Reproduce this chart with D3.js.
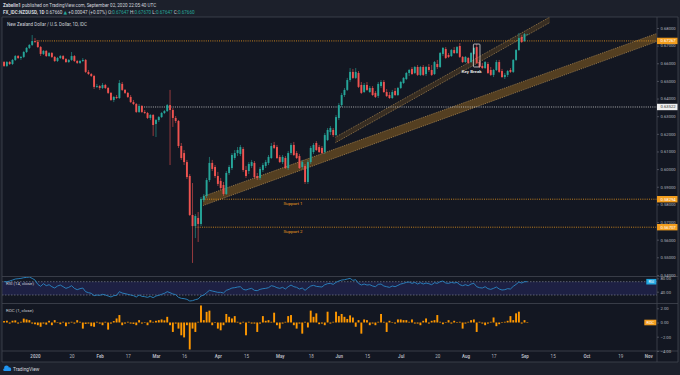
<!DOCTYPE html>
<html>
<head>
<meta charset="utf-8">
<script src="https://cdn.jsdelivr.net/npm/d3@7"></script>
<style>
html, body { margin: 0; padding: 0; background: #1c202b; }
svg { display: block; font-family: Roboto, "DejaVu Sans", sans-serif; }
</style>
</head>
<body>
<svg id="chart" width="680" height="375"></svg>
<script>
// bar index of the first candle, counted in trading days from Jan 1 2020
let firstBar = -11;

// daily candles [open, high, low, close], Dec 16 2019 .. Sep 2 2020
let candles = [
    [0.6607,0.6613,0.6579,0.6585],[0.6585,0.6613,0.6579,0.6607],[0.6607,0.6613,0.6590,0.6596],
    [0.6596,0.6624,0.6590,0.6619],[0.6619,0.6647,0.6613,0.6641],[0.6641,0.6647,0.6624,0.6630],
    [0.6630,0.6641,0.6619,0.6636],[0.6636,0.6670,0.6630,0.6664],[0.6664,0.6692,0.6658,0.6687],
    [0.6687,0.6709,0.6681,0.6704],[0.6704,0.6760,0.6698,0.6726],
    // Jan
    [0.6726,0.6743,0.6715,0.6721],[0.6721,0.6732,0.6687,0.6692],[0.6692,0.6698,0.6641,0.6653],
    [0.6653,0.6675,0.6647,0.6670],[0.6670,0.6675,0.6636,0.6641],[0.6641,0.6664,0.6636,0.6658],
    [0.6658,0.6664,0.6630,0.6636],[0.6636,0.6641,0.6607,0.6613],[0.6613,0.6636,0.6607,0.6630],
    [0.6630,0.6647,0.6624,0.6641],[0.6641,0.6647,0.6619,0.6624],[0.6624,0.6630,0.6602,0.6607],
    [0.6607,0.6624,0.6602,0.6619],[0.6619,0.6664,0.6613,0.6641],[0.6641,0.6647,0.6607,0.6613],
    [0.6613,0.6619,0.6596,0.6602],[0.6602,0.6619,0.6596,0.6613],[0.6613,0.6630,0.6607,0.6619],
    [0.6619,0.6624,0.6545,0.6551],[0.6551,0.6562,0.6534,0.6539],[0.6539,0.6545,0.6522,0.6528],
    [0.6528,0.6534,0.6454,0.6466],[0.6466,0.6483,0.6460,0.6471],
    // Feb
    [0.6471,0.6477,0.6449,0.6460],[0.6460,0.6488,0.6454,0.6477],[0.6477,0.6483,0.6454,0.6460],
    [0.6460,0.6466,0.6426,0.6432],[0.6432,0.6437,0.6386,0.6392],[0.6392,0.6415,0.6380,0.6409],
    [0.6409,0.6420,0.6398,0.6403],[0.6403,0.6505,0.6398,0.6488],[0.6483,0.6494,0.6443,0.6449],
    [0.6449,0.6454,0.6426,0.6432],[0.6432,0.6437,0.6403,0.6409],[0.6409,0.6420,0.6375,0.6380],
    [0.6380,0.6392,0.6363,0.6369],[0.6369,0.6375,0.6318,0.6324],[0.6324,0.6369,0.6318,0.6358],
    [0.6358,0.6363,0.6318,0.6324],[0.6324,0.6335,0.6312,0.6318],[0.6318,0.6324,0.6284,0.6290],
    [0.6290,0.6312,0.6278,0.6307],[0.6307,0.6312,0.6188,0.6250],
    // Mar
    [0.6256,0.6284,0.6182,0.6278],[0.6278,0.6301,0.6267,0.6295],[0.6295,0.6324,0.6290,0.6318],
    [0.6318,0.6335,0.6312,0.6329],[0.6329,0.6369,0.6324,0.6363],[0.6363,0.6449,0.6023,0.6335],
    [0.6335,0.6346,0.6239,0.6290],[0.6290,0.6301,0.6261,0.6273],[0.6273,0.6278,0.6120,0.6131],
    [0.6131,0.6148,0.6052,0.6063],[0.6091,0.6108,0.6023,0.6040],[0.6040,0.6052,0.5944,0.5955],
    [0.5961,0.5972,0.5734,0.5740],[0.5740,0.5921,0.5468,0.5677],[0.5677,0.5745,0.5609,0.5734],
    [0.5723,0.5757,0.5587,0.5689],[0.5689,0.5842,0.5677,0.5831],[0.5825,0.5859,0.5814,0.5848],
    [0.5848,0.5950,0.5836,0.5938],[0.5938,0.6069,0.5927,0.6035],[0.6035,0.6052,0.5989,0.6001],
    [0.6012,0.6023,0.5950,0.5961],
    // Apr
    [0.5961,0.5984,0.5904,0.5916],[0.5933,0.5950,0.5882,0.5893],[0.5910,0.5927,0.5848,0.5859],
    [0.5859,0.5989,0.5853,0.5978],[0.5978,0.6023,0.5967,0.6012],[0.6006,0.6091,0.5995,0.6080],
    [0.6063,0.6108,0.6052,0.6091],[0.6091,0.6125,0.6074,0.6108],[0.6086,0.6137,0.6074,0.6125],
    [0.6114,0.6125,0.5984,0.5995],[0.5995,0.6018,0.5950,0.5961],[0.5989,0.6040,0.5972,0.6029],
    [0.6018,0.6052,0.6006,0.6040],[0.6035,0.6046,0.5944,0.5955],[0.5961,0.5978,0.5938,0.5950],
    [0.5950,0.6012,0.5938,0.6001],[0.5995,0.6035,0.5984,0.6023],[0.6018,0.6052,0.6006,0.6040],
    [0.6035,0.6080,0.6023,0.6069],[0.6063,0.6148,0.6057,0.6131],[0.6137,0.6154,0.6114,0.6120],
    [0.6125,0.6137,0.6057,0.6063],
    // May
    [0.6069,0.6080,0.6035,0.6040],[0.6040,0.6080,0.6029,0.6069],[0.6063,0.6074,0.6001,0.6006],
    [0.6006,0.6103,0.5995,0.6091],[0.6091,0.6148,0.6080,0.6137],[0.6137,0.6154,0.6074,0.6080],
    [0.6091,0.6103,0.6057,0.6063],[0.6074,0.6086,0.6001,0.6006],[0.6012,0.6052,0.6001,0.6040],
    [0.6018,0.6029,0.5916,0.5927],[0.5927,0.6052,0.5916,0.6040],[0.6040,0.6131,0.6029,0.6120],
    [0.6097,0.6148,0.6086,0.6137],[0.6148,0.6159,0.6103,0.6108],[0.6125,0.6137,0.6091,0.6097],
    [0.6120,0.6131,0.6086,0.6091],[0.6097,0.6205,0.6086,0.6193],[0.6165,0.6233,0.6159,0.6222],
    [0.6210,0.6244,0.6193,0.6233],[0.6222,0.6233,0.6182,0.6193],[0.6193,0.6307,0.6188,0.6295],
    // Jun
    [0.6290,0.6375,0.6278,0.6363],[0.6363,0.6432,0.6352,0.6420],[0.6420,0.6460,0.6409,0.6449],
    [0.6449,0.6517,0.6443,0.6505],[0.6505,0.6573,0.6494,0.6551],[0.6551,0.6568,0.6511,0.6517],
    [0.6517,0.6573,0.6511,0.6551],[0.6545,0.6556,0.6460,0.6466],[0.6477,0.6494,0.6426,0.6432],
    [0.6437,0.6488,0.6432,0.6477],[0.6477,0.6494,0.6443,0.6449],[0.6437,0.6471,0.6432,0.6460],
    [0.6460,0.6471,0.6415,0.6420],[0.6432,0.6443,0.6403,0.6409],[0.6415,0.6494,0.6403,0.6483],
    [0.6471,0.6505,0.6460,0.6494],[0.6494,0.6505,0.6432,0.6437],[0.6437,0.6454,0.6409,0.6414],
    [0.6420,0.6437,0.6398,0.6403],[0.6403,0.6449,0.6398,0.6437],[0.6443,0.6460,0.6414,0.6420],
    [0.6420,0.6466,0.6414,0.6460],
    // Jul
    [0.6460,0.6500,0.6454,0.6494],[0.6488,0.6522,0.6483,0.6517],[0.6511,0.6551,0.6505,0.6545],
    [0.6545,0.6568,0.6528,0.6562],[0.6568,0.6579,0.6534,0.6539],[0.6545,0.6585,0.6539,0.6579],
    [0.6579,0.6590,0.6528,0.6534],[0.6534,0.6585,0.6528,0.6579],[0.6579,0.6590,0.6528,0.6534],
    [0.6539,0.6585,0.6528,0.6579],[0.6579,0.6596,0.6551,0.6562],[0.6562,0.6590,0.6528,0.6534],
    [0.6539,0.6613,0.6534,0.6607],[0.6596,0.6619,0.6568,0.6579],[0.6579,0.6664,0.6573,0.6658],
    [0.6653,0.6692,0.6641,0.6687],[0.6681,0.6692,0.6624,0.6630],[0.6647,0.6658,0.6630,0.6636],
    [0.6641,0.6681,0.6636,0.6675],[0.6675,0.6692,0.6653,0.6658],[0.6658,0.6698,0.6653,0.6692],
    [0.6698,0.6715,0.6630,0.6636],[0.6636,0.6641,0.6602,0.6607],
    // Aug
    [0.6607,0.6641,0.6602,0.6636],[0.6630,0.6636,0.6596,0.6602],[0.6607,0.6664,0.6602,0.6658],
    [0.6653,0.6692,0.6647,0.6687],[0.6692,0.6709,0.6596,0.6602],[0.6607,0.6619,0.6573,0.6579],
    [0.6585,0.6602,0.6568,0.6573],[0.6573,0.6613,0.6568,0.6607],[0.6596,0.6607,0.6539,0.6545],
    [0.6562,0.6579,0.6528,0.6534],[0.6534,0.6568,0.6522,0.6562],[0.6562,0.6619,0.6556,0.6607],
    [0.6607,0.6619,0.6545,0.6551],[0.6556,0.6568,0.6517,0.6522],[0.6522,0.6545,0.6511,0.6534],
    [0.6534,0.6562,0.6522,0.6556],[0.6562,0.6573,0.6545,0.6551],[0.6551,0.6624,0.6545,0.6619],
    [0.6619,0.6681,0.6613,0.6675],[0.6675,0.6772,0.6670,0.6743],[0.6749,0.6760,0.6715,0.6721],
    // Sep
    [0.6726,0.6772,0.6721,0.6765],[0.67647,0.67670,0.67647,0.67660]
];

// RSI(14) per candle
let rsi = [70,70,72,75,78,79,80,82,83,84,80,
    75,62,56,64,58,61,55,51,57,60,55,50,53,58,50,46,49,51,40,37,35,28,30,
    29,32,30,27,24,28,29,40,36,34,32,30,28,24,30,26,25,23,26,22,
    27,29,32,35,40,37,33,31,23,20,19,17,12,13,16,18,27,30,37,44,42,40,
    38,38,36,44,47,51,52,54,55,47,45,48,50,44,43,47,49,50,52,58,56,52,
    50,53,48,55,60,55,53,48,51,44,51,57,59,56,55,54,61,64,65,62,68,
    72,75,76,78,80,74,76,65,60,63,60,61,57,55,62,63,57,55,53,57,55,59,
    63,65,68,69,65,68,63,67,63,66,64,61,67,65,70,72,66,65,68,66,68,61,58,
    61,58,63,65,55,52,51,55,49,47,50,54,48,45,46,49,48,56,62,69,66,
    70,70];

// ROC(1) per candle, percent
let roc = [0.2,0.25,-0.15,0.25,0.3,-0.15,0.1,0.55,0.43,0.33,-0.15,
    -0.25,-0.38,-0.6,-0.15,-0.3,0.24,-0.38,0.33,-0.05,-0.24,0.1,-0.52,-0.15,0.1,-0.15,0.33,0.1,-0.86,-0.2,-0.15,-0.52,-0.6,0.1,
    -0.15,-0.38,0.1,-1.0,-0.15,0.2,0.57,1.05,-0.38,-0.15,0.1,-0.15,-0.2,-0.38,0.33,-0.15,-0.05,-0.38,0.33,0.1,
    0.24,0.33,0.43,0.3,0.8,-0.38,-1.33,-0.15,-0.86,-1.8,-2.1,-0.38,-3.8,-0.86,-1.33,0.1,2.4,0.33,1.5,1.67,-0.38,-0.05,
    -0.86,-1.1,-0.38,1.2,0.8,0.57,0.9,0.1,-0.24,0.1,-1.8,0.1,-0.15,-0.15,-1.33,-0.15,0.9,0.24,0.33,0.1,1.38,-0.38,
    -0.86,-0.15,0.1,0.9,1.05,-0.38,-0.86,-0.15,-1.57,0.1,-0.7,1.67,0.8,1.29,-0.24,-0.15,-0.38,1.52,-0.15,0.1,1.52,
    0.9,1.2,0.8,0.5,1.0,0.7,-0.6,0.33,-1.57,0.43,0.33,-0.38,-0.15,-0.38,0.1,1.2,0.1,-1.33,0.24,-0.05,-0.15,0.43,
    0.43,0.33,0.33,0.1,0.43,-0.15,-0.15,-0.38,0.24,0.57,-0.15,0.24,0.33,1.05,0.1,-0.24,-0.05,0.33,-0.15,0.24,-0.05,0.1,-0.86,
    -0.15,0.1,0.33,0.43,-1.33,0.1,-0.15,-0.38,-0.15,0.1,0.71,-0.52,-0.24,-0.05,0.1,0.24,0.9,0.33,1.29,1.52,-0.15,
    0.33,0.02];

// time axis
let tickBars = [0, 13, 23, 33, 43, 53, 65, 75, 87, 98, 108, 118, 130, 143, 153, 163, 174, 184, 196, 208, 218];
let tickLabels = ["2020", "20", "Feb", "17", "Mar", "16", "Apr", "15", "May", "18", "Jun", "15",
    "Jul", "20", "Aug", "17", "Sep", "15", "Oct", "19", "Nov"];

// price scale
let priceTicks = [0.54, 0.55, 0.56, 0.57, 0.58, 0.59, 0.60, 0.61, 0.62, 0.63, 0.64, 0.65, 0.66, 0.67, 0.68];
let rsiTicks = [80, 40];
let rocTicks = [2, 0, -2, -4];

// horizontal levels and the bar they start from
let levelPrices = [0.67267, 0.63522, 0.58294, 0.56707];
let levelFrom = [0.5, 38, 59.5, 57];
let supportNames = ["Support 1", "Support 2"];
let supportBar = 91.7;

// trend channels: [start bar, end bar], top and bottom edge prices
let lowBandBars = [59.7, 221];
let lowBandTop = [0.5845, 0.6769];
let lowBandBottom = [0.5793, 0.6723];
let highBandBars = [106.8, 183];
let highBandTop = [0.6181, 0.6862];
let highBandBottom = [0.6150, 0.6831];

// key break box
let keyBar = 157;
let keyHigh = 0.6709;
let keyLow = 0.6579;

let svg = d3.select("#chart");
let plotLeft = 2, plotRight = 657, frameRight = 678;
let mainTop = 17, rsiTop = 276.5, rocTop = 303.5, timeTop = 351, frameBottom = 362;

let upColor = "#26a69a", downColor = "#ef5350";
let orange = "#f29d1e";
let textColor = "#b2b5be";
let lineColor = "#434651";
let fontStack = "Roboto, 'DejaVu Sans', sans-serif";

let x = d3.scaleLinear().domain([0, 218]).range([35, 648.3]);
let y = d3.scaleLinear().domain([0.55, 0.68]).range([257.3, 28]);
let yRsi = d3.scaleLinear().domain([30, 70]).range([295, 281.7]);
let yRoc = d3.scaleLinear().domain([-2, 2]).range([336.7, 308.3]);

function barX(i) { return x(firstBar + i); }

// backgrounds
svg.append("rect").attr("width", 680).attr("height", 375).attr("fill", "#1c202b");
svg.append("rect").attr("x", plotLeft).attr("y", mainTop)
    .attr("width", frameRight - plotLeft).attr("height", frameBottom - mainTop)
    .attr("fill", "#131722");

let defs = svg.append("defs");
function addClip(id, top, bottom) {
    defs.append("clipPath").attr("id", id).append("rect")
        .attr("x", plotLeft).attr("y", top)
        .attr("width", plotRight - plotLeft).attr("height", bottom - top);
}
addClip("clipMain", mainTop, rsiTop);
addClip("clipRsi", rsiTop, rocTop);
addClip("clipRoc", rocTop, timeTop);

// header
let head1 = svg.append("text").attr("x", 3).attr("y", 7).attr("font-size", "4.6px").attr("fill", "#d1d4dc");
head1.append("tspan").attr("font-weight", "bold").text("Zabelin1");
head1.append("tspan").text(" published on TradingView.com, September 02, 2020 22:05:40 UTC");

let head2 = svg.append("text").attr("x", 3).attr("y", 14.3).attr("font-size", "4.6px").attr("fill", "#d1d4dc");
head2.append("tspan").attr("font-weight", "bold").text("FX_IDC:NZDUSD, 1D");
head2.append("tspan").text(" 0.67660 ");
head2.append("tspan").attr("fill", upColor).text("\u25B2");
head2.append("tspan").text(" +0.00047 (+0.07%) O:");
head2.append("tspan").attr("fill", upColor).text("0.67647");
head2.append("tspan").text(" H:");
head2.append("tspan").attr("fill", upColor).text("0.67670");
head2.append("tspan").text(" L:");
head2.append("tspan").attr("fill", upColor).text("0.67647");
head2.append("tspan").text(" C:");
head2.append("tspan").attr("fill", upColor).text("0.67660");

// main pane
let gMain = svg.append("g").attr("clip-path", "url(#clipMain)");

function bandPath(bars, top, bottom) {
    return [[x(bars[0]), y(top[0])], [x(bars[1]), y(top[1])],
            [x(bars[1]), y(bottom[1])], [x(bars[0]), y(bottom[0])]];
}
function drawBand(bars, top, bottom, fillOpacity) {
    gMain.append("polygon")
        .attr("points", bandPath(bars, top, bottom).join(" "))
        .attr("fill", "#5c4421").attr("fill-opacity", fillOpacity);
    [top, bottom].forEach(function (edge) {
        gMain.append("line")
            .attr("x1", x(bars[0])).attr("y1", y(edge[0]))
            .attr("x2", x(bars[1])).attr("y2", y(edge[1]))
            .attr("stroke", "#b8935a").attr("stroke-width", 0.7)
            .attr("stroke-dasharray", "1,1");
    });
}
drawBand(lowBandBars, lowBandTop, lowBandBottom, 0.9);
drawBand(highBandBars, highBandTop, highBandBottom, 0.5);

let levelColors = [orange, "#d6d6d6", orange, orange];
gMain.selectAll("line.level")
    .data(levelPrices)
    .enter().append("line")
    .attr("class", "level")
    .attr("x1", function (d, i) { return x(levelFrom[i]); })
    .attr("x2", plotRight)
    .attr("y1", function (d) { return y(d); })
    .attr("y2", function (d) { return y(d); })
    .attr("stroke", function (d, i) { return levelColors[i]; })
    .attr("stroke-width", 0.8)
    .attr("stroke-dasharray", "1,1.2");

let candle = gMain.append("g").selectAll("g")
    .data(candles)
    .enter().append("g")
    .attr("fill", function (d) { return d[3] >= d[0] ? upColor : downColor; })
    .attr("stroke", function (d) { return d[3] >= d[0] ? upColor : downColor; });

candle.append("line")
    .attr("x1", function (d, i) { return barX(i); })
    .attr("x2", function (d, i) { return barX(i); })
    .attr("y1", function (d) { return y(d[1]); })
    .attr("y2", function (d) { return y(d[2]); })
    .attr("stroke-width", 0.6);

candle.append("rect")
    .attr("stroke", "none")
    .attr("x", function (d, i) { return barX(i) - 0.95; })
    .attr("width", 1.9)
    .attr("y", function (d) { return y(Math.max(d[0], d[3])); })
    .attr("height", function (d) { return Math.max(0.6, Math.abs(y(d[0]) - y(d[3]))); });

// key break
gMain.append("rect")
    .attr("x", x(keyBar) - 3.3).attr("width", 6.6)
    .attr("y", y(keyHigh)).attr("height", y(keyLow) - y(keyHigh))
    .attr("rx", 0.8)
    .attr("fill", "none").attr("stroke", "#d8d8d8").attr("stroke-width", 0.8);
gMain.append("text")
    .attr("x", x(keyBar) - 5).attr("y", y(keyLow) + 6.5)
    .attr("text-anchor", "middle").attr("font-size", "4.4px").attr("font-weight", "bold")
    .attr("fill", "#e0e0e0").text("Key Break");

gMain.selectAll("text.support")
    .data(supportNames)
    .enter().append("text")
    .attr("class", "support")
    .attr("x", x(supportBar))
    .attr("y", function (d, i) { return y(levelPrices[i + 2]) + 5.5; })
    .attr("text-anchor", "middle").attr("font-size", "4.4px")
    .attr("fill", orange).text(function (d) { return d; });

svg.append("text").attr("x", 7).attr("y", 25.8).attr("font-size", "4.5px")
    .attr("fill", "#d1d4dc").text("New Zealand Dollar / U.S. Dollar, 1D, IDC");

// RSI pane
let gRsi = svg.append("g").attr("clip-path", "url(#clipRsi)");
gRsi.append("rect").attr("x", plotLeft).attr("width", plotRight - plotLeft)
    .attr("y", yRsi(70)).attr("height", yRsi(30) - yRsi(70))
    .attr("fill", "#1d2043");
[70, 30].forEach(function (v) {
    gRsi.append("line").attr("x1", plotLeft).attr("x2", plotRight)
        .attr("y1", yRsi(v)).attr("y2", yRsi(v))
        .attr("stroke", "#8a8d99").attr("stroke-width", 0.6).attr("stroke-dasharray", "1.5,1.5");
});
gRsi.append("path")
    .datum(rsi)
    .attr("fill", "none").attr("stroke", "#2b87c4").attr("stroke-width", 0.9)
    .attr("d", d3.line().x(function (d, i) { return barX(i); }).y(function (d) { return yRsi(d); }));
svg.append("text").attr("x", 6).attr("y", 284.8).attr("font-size", "4.4px")
    .attr("fill", "#c8cad2").text("RSI (14, close)");

// ROC pane
let gRoc = svg.append("g").attr("clip-path", "url(#clipRoc)");
gRoc.selectAll("rect")
    .data(roc)
    .enter().append("rect")
    .attr("x", function (d, i) { return barX(i) - 0.95; })
    .attr("width", 1.9)
    .attr("y", function (d) { return Math.min(yRoc(0), yRoc(d)); })
    .attr("height", function (d) { return Math.max(0.5, Math.abs(yRoc(d) - yRoc(0))); })
    .attr("fill", "#ff9800");
svg.append("text").attr("x", 6).attr("y", 311.8).attr("font-size", "4.4px")
    .attr("fill", "#c8cad2").text("ROC (1, close)");

// separators and frame
[rsiTop, rocTop, timeTop, frameBottom, mainTop].forEach(function (v) {
    svg.append("line").attr("x1", plotLeft).attr("x2", frameRight)
        .attr("y1", v).attr("y2", v).attr("stroke", lineColor).attr("stroke-width", 0.8);
});
[plotLeft, plotRight, frameRight].forEach(function (v) {
    svg.append("line").attr("x1", v).attr("x2", v)
        .attr("y1", mainTop).attr("y2", frameBottom).attr("stroke", lineColor).attr("stroke-width", 0.8);
});

// axes
function styleAxis(g, size) {
    g.attr("font-size", size).attr("font-family", fontStack);
    g.select(".domain").remove();
    g.selectAll(".tick line").attr("stroke", "#6a6d78").attr("stroke-width", 0.6);
    g.selectAll(".tick text").attr("fill", textColor);
}

let priceAxis = svg.append("g")
    .attr("transform", "translate(" + plotRight + ",0)")
    .call(d3.axisRight(y).tickValues(priceTicks).tickFormat(d3.format(".5f")).tickSize(2).tickPadding(1.5));
styleAxis(priceAxis, "4.2px");

let rsiAxis = svg.append("g")
    .attr("transform", "translate(" + plotRight + ",0)")
    .call(d3.axisRight(yRsi).tickValues(rsiTicks).tickFormat(d3.format(".2f")).tickSize(2).tickPadding(1.5));
styleAxis(rsiAxis, "4.2px");

let rocAxis = svg.append("g")
    .attr("transform", "translate(" + plotRight + ",0)")
    .call(d3.axisRight(yRoc).tickValues(rocTicks).tickFormat(d3.format(".2f")).tickSize(2).tickPadding(1.5));
styleAxis(rocAxis, "4.2px");

let timeAxis = svg.append("g")
    .attr("transform", "translate(0," + timeTop + ")")
    .call(d3.axisBottom(x).tickValues(tickBars)
        .tickFormat(function (d, i) { return tickLabels[i]; })
        .tickSize(0).tickPadding(3.8));
styleAxis(timeAxis, "4.5px");
timeAxis.selectAll(".tick text")
    .attr("font-weight", function (d, i) { return isNaN(+tickLabels[i]) || tickLabels[i].length === 4 ? "bold" : "normal"; });

// value boxes on the price scale
let levelBoxColors = [orange, "#f0f0f0", orange, orange];
let levelTextColors = ["#ffffff", "#333333", "#ffffff", "#ffffff"];
levelPrices.forEach(function (p, i) {
    svg.append("rect").attr("x", plotRight).attr("y", y(p) - 3.2)
        .attr("width", 20.5).attr("height", 6.4).attr("fill", levelBoxColors[i]);
    svg.append("text").attr("x", plotRight + 3.5).attr("y", y(p) + 1.5)
        .attr("font-size", "4.2px").attr("fill", levelTextColors[i]).text(d3.format(".5f")(p));
});

// indicator name labels
svg.append("rect").attr("x", 646.3).attr("y", yRsi(70) - 2.8).attr("width", 10).attr("height", 5.6).attr("fill", "#22a7e0");
svg.append("text").attr("x", 651.3).attr("y", yRsi(70) + 1.5).attr("text-anchor", "middle")
    .attr("font-size", "3.8px").attr("fill", "#ffffff").text("RSI");
svg.append("rect").attr("x", 644.3).attr("y", yRoc(0) - 2.8).attr("width", 12).attr("height", 5.6).attr("fill", orange);
svg.append("text").attr("x", 650.3).attr("y", yRoc(0) + 1.5).attr("text-anchor", "middle")
    .attr("font-size", "3.8px").attr("fill", "#ffffff").text("ROC");

// footer logo
let logo = svg.append("g").attr("fill", "#2196f3");
logo.append("circle").attr("cx", 6.5).attr("cy", 368).attr("r", 2.4);
logo.append("circle").attr("cx", 9.3).attr("cy", 369).attr("r", 1.8);
logo.append("rect").attr("x", 3.2).attr("y", 368.5).attr("width", 8).attr("height", 2.4).attr("rx", 1.2);
svg.append("text").attr("x", 13).attr("y", 371).attr("font-size", "4.8px")
    .attr("fill", "#d1d4dc").text("TradingView");
</script>
</body>
</html>
